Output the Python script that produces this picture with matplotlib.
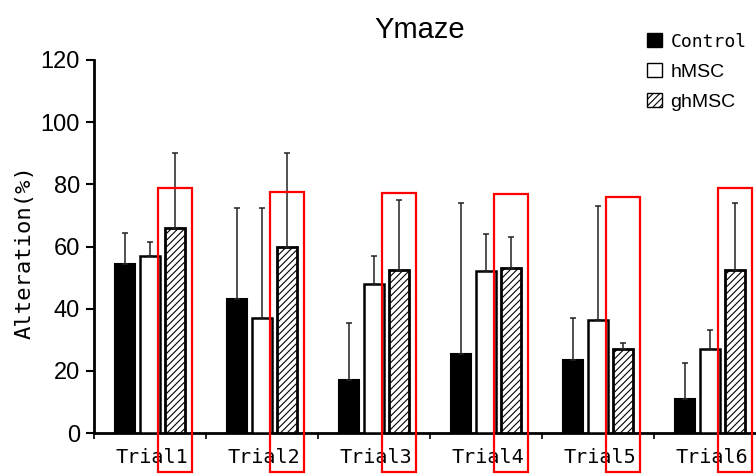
import numpy as np
import matplotlib
matplotlib.use("Agg")
import matplotlib.pyplot as plt
from matplotlib.patches import Rectangle, Patch

trials = ["Trial1", "Trial2", "Trial3", "Trial4", "Trial5", "Trial6"]
groups = ["Control", "hMSC", "ghMSC"]
control = [54.5, 43, 17, 25.5, 23.5, 11]
control_err = [10, 29.5, 18.5, 48.5, 13.5, 11.5]
hmsc = [57, 37, 48, 52, 36.5, 27]
hmsc_err = [4.5, 35.5, 9, 12, 36.5, 6]
ghmsc = [66, 60, 52.5, 53, 27, 52.5]
ghmsc_err = [24, 30, 22.5, 10, 2, 21.5]
# red highlight boxes around ghMSC bars (top value)
box_tops = [78.8, 77.5, 77.2, 76.8, 75.9, 78.8]

plt.rcParams['font.family'] = ['Liberation Sans', 'DejaVu Sans']
plt.rcParams['hatch.linewidth'] = 0.8
MONO = ["DejaVu Sans Mono"]

fig = plt.figure(figsize=(7.56, 4.74), dpi=100)
ax = fig.add_axes([94 / 756, 41 / 474, 672 / 756, 373 / 474])

x = np.arange(len(trials)) + 0.5
w = 0.18
off = 0.223
zeros = np.zeros(len(trials))
ekw = dict(ecolor="#222222", elinewidth=1.1, capsize=2.5, capthick=1.1)
ax.bar(x - off, control, w, color="black", edgecolor="black", lw=1.5,
       yerr=[zeros, control_err], error_kw=ekw, zorder=3)
ax.bar(x, hmsc, w, color="white", edgecolor="black", lw=1.8,
       yerr=[zeros, hmsc_err], error_kw=ekw, zorder=3)
ax.bar(x + off, ghmsc, w, color="white", edgecolor="black", lw=2.0, hatch="/////",
       yerr=[zeros, ghmsc_err], error_kw=ekw, zorder=3)

for xi, top in zip(x, box_tops):
    ax.add_patch(Rectangle((xi + off - 0.15, -12.5), 0.30, top + 12.5, fill=False,
                           edgecolor="red", lw=1.6, clip_on=False, zorder=5))

ax.set_xlim(0, 6)
ax.set_ylim(0, 120)
ax.set_yticks(range(0, 121, 20))
ax.set_xticks(range(0, 7))
ax.set_xticklabels([])
ax.tick_params(axis="x", length=4, width=1.2, direction="out")
ax.tick_params(axis="y", length=6, width=1.5, direction="out", labelsize=17, pad=4)
for xi, t in zip(x, trials):
    ax.text(xi + 0.02, -8, t, ha="center", va="center", fontsize=14.5, family=MONO)
for s in ("top", "right"):
    ax.spines[s].set_visible(False)
ax.spines["left"].set_linewidth(2)
ax.spines["bottom"].set_linewidth(2)
fig.text(25 / 756, 1 - 252 / 474, "Alteration(%)", rotation=90, ha="center",
         va="center", fontsize=16, family=MONO)

fig.text(420 / 756, 1 - 30 / 474, "Ymaze", ha="center", va="center", fontsize=21)

handles = [Patch(facecolor="black", edgecolor="black", lw=1),
           Patch(facecolor="white", edgecolor="black", lw=1),
           Patch(facecolor="white", edgecolor="black", lw=1, hatch="/////")]
leg = ax.legend(handles, groups, loc="upper left", bbox_to_anchor=(647 / 756, 1 - 33 / 474),
                bbox_transform=fig.transFigure, frameon=False, fontsize=14,
                handlelength=0.75, handleheight=0.75, handletextpad=0.45,
                labelspacing=0.62, borderpad=0, borderaxespad=0)
leg.get_texts()[0].set_family(MONO)
leg.get_texts()[0].set_fontsize(13)

fig.savefig("out.png", dpi=100)
